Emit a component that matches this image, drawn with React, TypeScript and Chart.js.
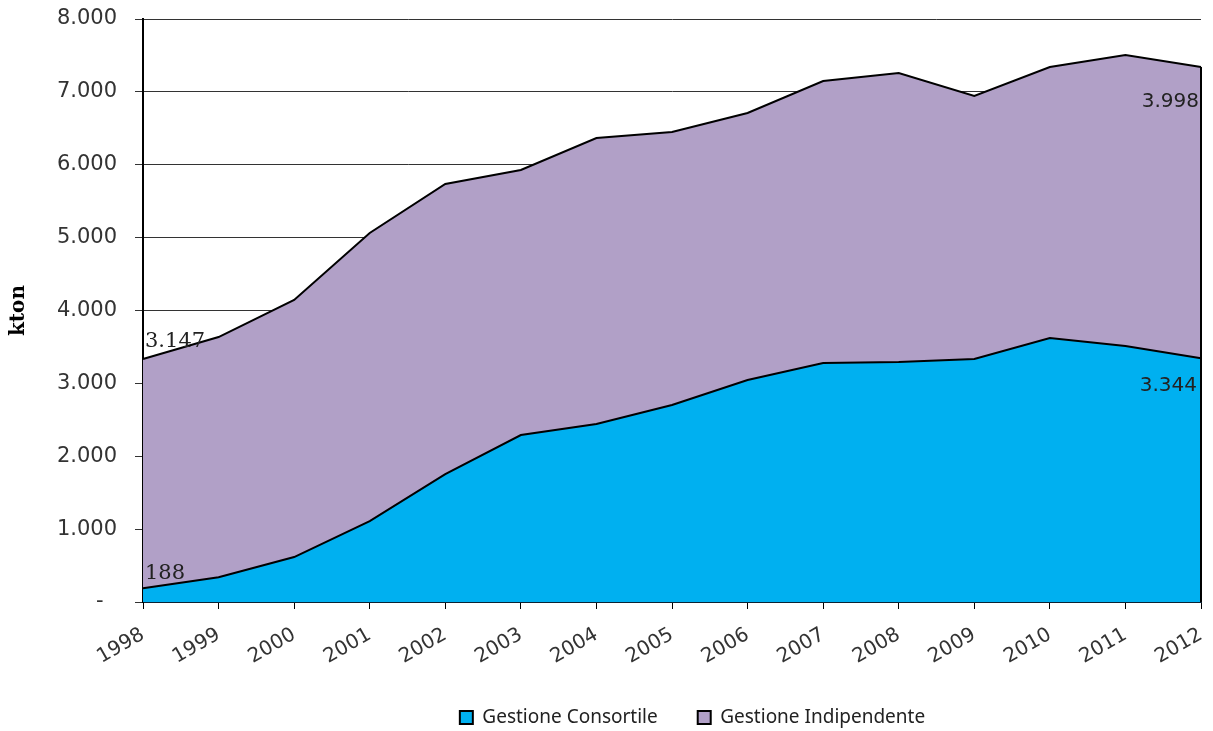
import React, { useEffect, useRef } from "react";
import { Chart, registerables } from "chart.js";

Chart.register(...registerables);

const years = ["1998", "1999", "2000", "2001", "2002", "2003", "2004", "2005", "2006", "2007", "2008", "2009", "2010", "2011", "2012"];
const consortile = [188, 340, 617, 1111, 1756, 2291, 2442, 2703, 3046, 3280, 3293, 3334, 3623, 3513, 3344];
const indipendente = [3147, 3296, 3527, 3953, 3980, 3637, 3925, 3746, 3664, 3869, 3966, 3609, 3718, 3993, 3998];
const yTickLabels = ["-  ", "1.000", "2.000", "3.000", "4.000", "5.000", "6.000", "7.000", "8.000"];
const seriesNames = ["Gestione Consortile", "Gestione Indipendente"];

const fmt = (v: number) => {
  const s = String(Math.round(v));
  return s.length > 3 ? s.slice(0, s.length - 3) + "." + s.slice(-3) : s;
};

const legendShift = {
  id: "legendShift",
  afterLayout(chart: any) {
    const lg = chart.legend;
    if (lg) {
      lg.left += 92;
      lg.right += 92;
    }
  },
};

const edgePlugin = {
  id: "edges",
  afterDatasetsDraw(chart: any) {
    const { ctx, scales } = chart;
    const x = scales.x, y = scales.y;
    const last = years.length - 1;
    const xr = x.getPixelForValue(last);
    ctx.save();
    ctx.strokeStyle = "#000";
    ctx.lineWidth = 2;
    ctx.beginPath();
    ctx.moveTo(xr, y.getPixelForValue(consortile[last] + indipendente[last]));
    ctx.lineTo(xr, y.getPixelForValue(0));
    ctx.stroke();
    ctx.restore();
  },
  afterDraw(chart: any) {
    const { ctx, scales } = chart;
    const x = scales.x, y = scales.y;
    const last = years.length - 1;
    const x0 = x.getPixelForValue(0);
    const xl = x.getPixelForValue(last);
    ctx.save();
    ctx.fillStyle = "#222";
    ctx.textBaseline = "alphabetic";
    ctx.font = "21px 'DejaVu Serif'";
    ctx.textAlign = "left";
    ctx.fillText(fmt(indipendente[0]), x0 + 2, y.getPixelForValue(consortile[0] + indipendente[0]) - 12);
    ctx.fillText(fmt(consortile[0]), x0 + 2, y.getPixelForValue(consortile[0]) - 9);
    ctx.font = "20px 'DejaVu Sans'";
    ctx.textAlign = "right";
    ctx.fillText(fmt(indipendente[last]), xl - 2, y.getPixelForValue(consortile[last] + indipendente[last]) + 40);
    ctx.fillText(fmt(consortile[last]), xl - 4, y.getPixelForValue(consortile[last]) + 33);
    ctx.restore();
  },
};

export default function App() {
  const ref = useRef<HTMLCanvasElement | null>(null);
  useEffect(() => {
    if (!ref.current) return;
    const chart = new Chart(ref.current, {
      type: "line",
      data: {
        labels: years,
        datasets: [
          {
            label: seriesNames[0],
            data: consortile,
            backgroundColor: "#00B0F0",
            borderColor: "#000",
            borderWidth: 2,
            pointRadius: 0,
            fill: "origin",
            tension: 0,
          },
          {
            label: seriesNames[1],
            data: indipendente,
            backgroundColor: "#B1A0C7",
            borderColor: "#000",
            borderWidth: 2,
            pointRadius: 0,
            fill: "-1",
            tension: 0,
          },
        ],
      },
      options: {
        animation: false,
        responsive: false,
        events: [],
        layout: { autoPadding: false, padding: { left: 0, right: 12, top: 19, bottom: -6 } },
        plugins: {
          tooltip: { enabled: false },
          legend: {
            position: "bottom",
            labels: {
              boxWidth: 13,
              boxHeight: 13,
              padding: 40,
              color: "#222",
              font: { family: "'Noto Sans'", size: 19 },
            },
          },
        },
        scales: {
          x: {
            offset: false,
            grid: { drawOnChartArea: false, drawTicks: true, tickLength: 7, color: "#000" },
            border: { color: "#0b2233", width: 2 },
            ticks: {
              maxRotation: 30,
              minRotation: 30,
              autoSkip: false,
              padding: 14,
              color: "#333",
              font: { family: "'DejaVu Sans'", size: 20 },
            },
            afterFit: (s: any) => {
              s.height = 66;
              s.paddingLeft = 0;
              s.paddingRight = 0;
            },
          },
          y: {
            stacked: true,
            min: 0,
            max: 8000,
            grid: { color: "#333", lineWidth: 1, tickLength: 8, drawTicks: true },
            border: { color: "#000", width: 2 },
            ticks: {
              stepSize: 1000,
              padding: 18,
              color: "#333",
              font: { family: "'DejaVu Sans'", size: 21 },
              callback: (_v: any, i: number) => yTickLabels[i],
            },
            title: {
              display: true,
              text: "kton",
              color: "#000",
              font: { family: "'DejaVu Serif'", size: 20, weight: "bold" },
              padding: { top: 7, bottom: 0 },
            },
            afterFit: (s: any) => {
              s.width = 143;
              s.paddingTop = 0;
              s.paddingBottom = 0;
            },
          },
        },
      },
      plugins: [edgePlugin, legendShift],
    });
    return () => chart.destroy();
  }, []);
  return (
    <div style={{ position: "fixed", left: 0, top: 0, width: 1213, height: 731, background: "#fff" }}>
      <canvas ref={ref} width={1213} height={731} style={{ width: 1213, height: 731, display: "block" }} />
    </div>
  );
}
